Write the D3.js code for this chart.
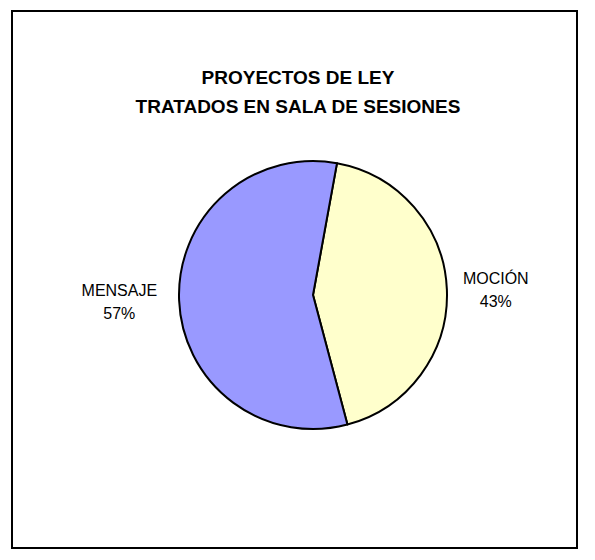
<!DOCTYPE html>
<html>
<head>
<meta charset="utf-8">
<script src="https://cdn.jsdelivr.net/npm/d3@7"></script>
<style>
  body { margin: 0; background: #fff; }
  text { font-family: "Liberation Sans", Arial, sans-serif; }
</style>
</head>
<body>
<div id="chart"></div>
<script>
// data
var categories = ["MOCIÓN", "MENSAJE"];
var values = [43, 57];
var colors = ["#FFFFCC", "#9999FF"];
var titleLines = ["PROYECTOS DE LEY", "TRATADOS EN SALA DE SESIONES"];

var w = 595, h = 560;
var cx = 313, cy = 295, r = 134;

var svg = d3.select("#chart").append("svg")
  .attr("width", w)
  .attr("height", h);

// outer frame
svg.append("rect")
  .attr("x", 12).attr("y", 11)
  .attr("width", 565).attr("height", 537)
  .attr("fill", "#fff")
  .attr("stroke", "#000")
  .attr("stroke-width", 2);

// title
svg.append("g").selectAll("text")
  .data(titleLines)
  .enter().append("text")
  .attr("x", 298)
  .attr("y", function(d, i) { return 84 + i * 29; })
  .attr("text-anchor", "middle")
  .style("font-size", "19px")
  .style("font-weight", "bold")
  .text(function(d) { return d; });

var pieData = categories.map(function(c, i) {
  return { name: c, value: values[i], color: colors[i] };
});

var startA = 0.18;
var pie = d3.pie()
  .sort(null)
  .value(function(d) { return d.value; })
  .startAngle(startA)
  .endAngle(startA + 2 * Math.PI);

var arc = d3.arc().innerRadius(0).outerRadius(r);

var g = svg.append("g")
  .attr("transform", "translate(" + cx + "," + cy + ")");

var arcs = pie(pieData);

g.selectAll("path")
  .data(arcs)
  .enter().append("path")
  .attr("d", arc)
  .attr("fill", function(d) { return d.data.color; })
  .attr("stroke", "#000")
  .attr("stroke-width", 2)
  .attr("stroke-linejoin", "round");

// labels outside the pie
var labelArc = d3.arc().innerRadius(r + 16).outerRadius(r + 16);

var labels = g.selectAll("g.lbl")
  .data(arcs)
  .enter().append("g")
  .attr("class", "lbl");

labels.each(function(d) {
  var el = d3.select(this);
  var p = labelArc.centroid(d);
  var mid = (d.startAngle + d.endAngle) / 2;
  var right = Math.sin(mid) > 0;
  var lines = [d.data.name, Math.round(d.data.value) + "%"];
  var t = el.append("text")
    .attr("text-anchor", "middle")
    .style("font-size", "16px");
  lines.forEach(function(l, i) {
    t.append("tspan").attr("x", 0).attr("dy", i === 0 ? 0 : 23).text(l);
  });
  var bw = d3.max(t.selectAll("tspan").nodes(), function(n) { return n.getComputedTextLength(); });
  var x = right ? p[0] + bw / 2 : p[0] - bw / 2 - 6;
  el.attr("transform", "translate(" + x + "," + (p[1] - 5) + ")");
});
</script>
</body>
</html>
